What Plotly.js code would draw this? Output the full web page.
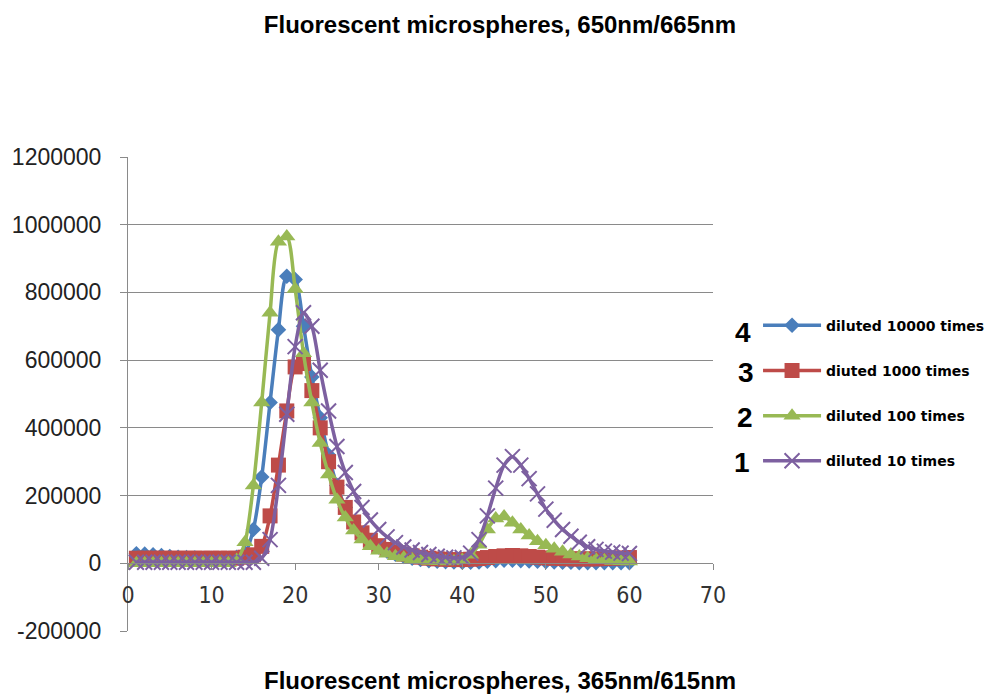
<!DOCTYPE html>
<html>
<head>
<meta charset="utf-8">
<script src="https://cdn.plot.ly/plotly-3.0.1.min.js"></script>
<style>
  html, body { margin: 0; padding: 0; background: #ffffff; }
  #chart { width: 991px; height: 697px; }
</style>
</head>
<body>
<div id="chart"></div>
<script>
// ---- data ----
const xValues = [1,2,3,4,5,6,7,8,9,10,11,12,13,14,15,16,17,18,19,20,
                 21,22,23,24,25,26,27,28,29,30,31,32,33,34,35,36,37,38,39,40,
                 41,42,43,44,45,46,47,48,49,50,51,52,53,54,55,56,57,58,59,60];

const diluted10000 = [28000,27000,25000,23000,20000,18000,17000,16000,15000,15000,
                      15000,15000,18000,30000,100000,255000,475000,690000,848000,838000,
                      700000,550000,430000,320000,230000,165000,120000,88000,65000,48000,
                      36000,27000,20000,15000,11000,8000,6000,5000,4000,3000,
                      3000,4000,6000,8000,9000,9000,8000,7000,6000,5000,
                      4000,3000,3000,2000,2000,2000,2000,2000,2000,2000];

const diluted1000 = [15000,15000,15000,15000,15000,15000,15000,15000,15000,15000,
                     15000,15000,15000,18000,25000,50000,140000,290000,450000,580000,
                     590000,510000,400000,300000,225000,165000,122000,90000,68000,52000,
                     41000,33000,27000,22000,18000,15000,13000,12000,11000,11000,
                     12000,14000,17000,20000,22000,23000,22000,20000,18000,16000,
                     15000,14000,13000,13000,13000,13000,14000,15000,16000,17000];

const diluted100 = [0,0,0,0,0,0,0,0,0,0,
                    0,0,10000,62000,230000,475000,740000,950000,965000,810000,
                    620000,475000,355000,262000,188000,135000,97000,70000,50000,37000,
                    28000,21000,16000,12000,9000,7000,6000,5000,6000,10000,
                    25000,55000,100000,132000,138000,120000,100000,82000,65000,53000,
                    43000,34000,26000,20000,15000,11000,9000,7000,6000,5000];

const diluted10 = [3000,3000,3000,3000,3000,3000,3000,3000,3000,3000,
                   3000,3000,3000,3000,3000,15000,70000,230000,440000,640000,
                   740000,700000,570000,450000,345000,268000,212000,165000,128000,100000,
                   78000,61000,48000,39000,32000,26000,21000,18000,16000,17000,
                   30000,70000,140000,222000,290000,315000,290000,250000,205000,160000,
                   127000,100000,80000,62000,49000,41000,36000,33000,30000,29000];

const seriesNames = ["diluted 10000 times", "diuted 1000 times", "diluted 100 times", "diluted 10 times"];
const seriesNumbers = ["4", "3", "2", "1"];
const yTickVals = [-200000, 0, 200000, 400000, 600000, 800000, 1000000, 1200000];
const yTickText = ["-200000", "0", "200000", "400000", "600000", "800000", "1000000", "1200000"];
const xTickVals = [0, 10, 20, 30, 40, 50, 60, 70];
const chartTitle = "Fluorescent microspheres, 650nm/665nm";
const xTitle = "Fluorescent microspheres, 365nm/615nm";

// ---- styling ----
const colors = ["#4A7EBB", "#BE4B48", "#98B954", "#7D60A0"];
const symbols = ["diamond", "square", "triangle-up", "x-thin"];
const sizes = [12, 15, 15, 15];
const seriesData = [diluted10000, diluted1000, diluted100, diluted10];

const traces = seriesData.map((ys, i) => ({
  type: "scatter",
  mode: "lines+markers",
  name: seriesNames[i],
  legendgroup: "g" + i,
  x: xValues,
  y: ys,
  line: { color: colors[i], width: 3.5, shape: "spline", smoothing: 0.8 },
  marker: {
    symbol: symbols[i],
    size: sizes[i],
    color: colors[i],
    line: symbols[i] === "x-thin" ? { color: colors[i], width: 2 } : { width: 0 }
  },
  hoverinfo: "skip"
}));

const gridColor = "#8A8A8A";
const axisFont = { family: "Liberation Sans, Arial, sans-serif", size: 23, color: "#222222" };

const annotations = seriesNumbers.map((t, i) => ({
  xref: "paper", yref: "paper",
  x: [1.0513, 1.0564, 1.0547, 1.0496][i],
  y: [0.629, 0.546, 0.450, 0.355][i],
  xanchor: "center", yanchor: "middle",
  text: "<b>" + t + "</b>",
  showarrow: false,
  font: { family: "Liberation Sans, Arial, sans-serif", size: 28, color: "#000000" }
}));
annotations.push({
  xref: "paper", yref: "paper",
  x: (500 - 128) / 585, y: (631 - 680) / 474,
  xanchor: "center", yanchor: "middle",
  text: "<b>" + xTitle + "</b>",
  showarrow: false,
  font: { family: "Liberation Sans, Arial, sans-serif", size: 24, color: "#000000" }
});

const layout = {
  width: 991,
  height: 697,
  margin: { l: 128, r: 278, t: 157, b: 66, autoexpand: false },
  paper_bgcolor: "#ffffff",
  plot_bgcolor: "#ffffff",
  showlegend: true,
  title: {
    text: "<b>" + chartTitle + "</b>",
    font: { family: "Liberation Sans, Arial, sans-serif", size: 24, color: "#000000" },
    xref: "container", yref: "container",
    x: 0.5045, xanchor: "center",
    y: 0.964, yanchor: "middle"
  },
  xaxis: {
    range: [0, 70],
    tickmode: "array",
    tickvals: xTickVals,
    ticktext: xTickVals.map(String),
    showgrid: false,
    zeroline: false,
    showline: true,
    linecolor: gridColor,
    linewidth: 1,
    ticks: "outside",
    ticklen: 6,
    tickcolor: gridColor,
    ticklabelstandoff: 5,
    anchor: "free",
    position: 200000 / 1400000,
    tickfont: { family: "Liberation Sans Narrow, DejaVu Sans Condensed, Liberation Sans, sans-serif", size: 23, color: "#333333" },
    automargin: false,
    fixedrange: true
  },
  yaxis: {
    range: [-200000, 1200000],
    tickmode: "array",
    tickvals: yTickVals,
    ticktext: yTickText,
    showgrid: true,
    gridcolor: gridColor,
    gridwidth: 1,
    zeroline: false,
    showline: true,
    linecolor: gridColor,
    linewidth: 1,
    ticks: "outside",
    ticklen: 7,
    tickcolor: gridColor,
    ticklabelstandoff: 14,
    tickfont: axisFont,
    automargin: false,
    fixedrange: true
  },
  legend: {
    x: 1.077, xanchor: "left",
    y: 0.678, yanchor: "top",
    bgcolor: "rgba(0,0,0,0)",
    borderwidth: 0,
    tracegroupgap: 24,
    itemwidth: 58,
    font: { family: "DejaVu Sans, Verdana, sans-serif", size: 14, color: "#000000", weight: "bold" },
    traceorder: "grouped"
  },
  annotations: annotations
};

Plotly.newPlot("chart", traces, layout, { displayModeBar: false, staticPlot: true });
</script>
</body>
</html>
